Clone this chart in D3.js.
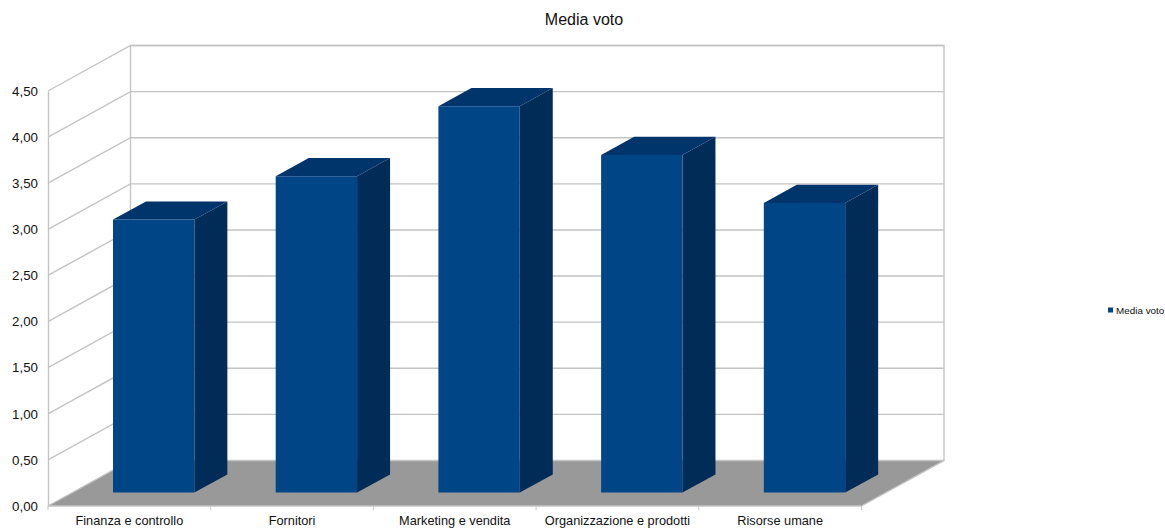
<!DOCTYPE html>
<html>
<head>
<meta charset="utf-8">
<script src="https://cdn.jsdelivr.net/npm/d3@7"></script>
<style>
  html, body { margin: 0; padding: 0; background: #fff; }
  svg { display: block; }
  text { font-family: "Liberation Sans", Arial, sans-serif; fill: #111; }
</style>
</head>
<body>
<svg></svg>
<script>
var categories = ["Finanza e controllo", "Fornitori", "Marketing e vendita", "Organizzazione e prodotti", "Risorse umane"];
var values = [2.96, 3.43, 4.19, 3.66, 3.14];
var yTicks = [0, 0.5, 1, 1.5, 2, 2.5, 3, 3.5, 4, 4.5];
var seriesName = "Media voto";

var svgWidth = 1165, svgHeight = 529;
var gridColor = "#c4c4c4";

// front plane of the box, and how far the back wall is shifted from it
var frontLeft = 48, frontRight = 861.5, frontBottom = 506, frontTop = 91;
var depthX = 82.5, depthY = -45.5;
// bars sit between these two fractions of the box depth
var barFront = 0.295, barBack = 0.695;

var svg = d3.select("svg").attr("width", svgWidth).attr("height", svgHeight);

var x = d3.scaleBand().domain(categories).range([frontLeft, frontRight])
    .paddingInner(0.5).paddingOuter(0.25);
var y = d3.scaleLinear().domain([0, 4.5]).range([frontBottom, frontTop]);

// x and y are front plane pixels, z is 0 (front) to 1 (back)
function project(px, py, z) {
    return [px + depthX * z, py + depthY * z];
}
function poly(points) {
    return points.map(function(p) { return project(p[0], p[1], p[2]).join(","); }).join(" ");
}

/* floor */
svg.append("polygon")
    .attr("points", poly([[frontLeft, y(0), 0], [frontRight, y(0), 0], [frontRight, y(0), 1], [frontLeft, y(0), 1]]))
    .attr("fill", "#999999");

/* gridlines on the side wall and the back wall */
var grid = svg.append("g").attr("fill", "none").attr("stroke", gridColor).attr("stroke-width", 1.4);

grid.selectAll("polyline")
    .data(yTicks)
    .enter()
    .append("polyline")
    .attr("points", function(d) {
        return poly([[frontLeft, y(d), 0], [frontLeft, y(d), 1], [frontRight, y(d), 1]]);
    });

// back wall outline
grid.append("polyline")
    .attr("points", poly([[frontLeft, y(0), 1], [frontLeft, y(4.5), 1], [frontRight, y(4.5), 1], [frontRight, y(0), 1], [frontRight, y(0), 0]]));

/* bars */
var bars = svg.selectAll(".bar")
    .data(categories)
    .enter()
    .append("g")
    .attr("class", "bar");

bars.append("polygon")          // right side
    .attr("fill", "#002c57")
    .attr("points", function(d, i) {
        var r = x(d) + x.bandwidth();
        return poly([[r, y(0), barFront], [r, y(0), barBack], [r, y(values[i]), barBack], [r, y(values[i]), barFront]]);
    });

bars.append("polygon")          // top
    .attr("fill", "#00356b")
    .attr("points", function(d, i) {
        var l = x(d), r = l + x.bandwidth(), t = y(values[i]);
        return poly([[l, t, barFront], [r, t, barFront], [r, t, barBack], [l, t, barBack]]);
    });

bars.append("polygon")          // front
    .attr("fill", "#004586")
    .attr("points", function(d, i) {
        var l = x(d), r = l + x.bandwidth();
        return poly([[l, y(0), barFront], [r, y(0), barFront], [r, y(values[i]), barFront], [l, y(values[i]), barFront]]);
    });

/* axes */
var yAxis = d3.axisLeft(y)
    .tickValues(yTicks)
    .tickSize(0)
    .tickPadding(10)
    .tickFormat(function(d) { return d3.format(".2f")(d).replace(".", ","); });

var yG = svg.append("g").attr("transform", "translate(" + frontLeft + ",0)").call(yAxis);
yG.select(".domain").attr("stroke", gridColor).attr("stroke-width", 1.4);
yG.selectAll("text").attr("font-size", 13.3).style("font-family", null);

var xAxis = d3.axisBottom(x).tickSize(0).tickPadding(10);
var xG = svg.append("g").attr("transform", "translate(0," + frontBottom + ")").call(xAxis);
xG.select(".domain").remove();
xG.selectAll("text").attr("font-size", 12.75).style("font-family", null);

// category separators under the floor
svg.append("g").selectAll("line")
    .data(categories.concat("end"))
    .enter()
    .append("line")
    .attr("x1", function(d, i) { return frontLeft + x.step() * i; })
    .attr("x2", function(d, i) { return frontLeft + x.step() * i; })
    .attr("y1", frontBottom)
    .attr("y2", frontBottom + 4)
    .attr("stroke", gridColor);

svg.append("line")
    .attr("x1", frontLeft).attr("x2", frontRight)
    .attr("y1", frontBottom).attr("y2", frontBottom)
    .attr("stroke", gridColor).attr("stroke-width", 1.4);

/* title */
svg.append("text")
    .attr("x", 584).attr("y", 25)
    .attr("text-anchor", "middle")
    .attr("font-size", 16)
    .text(seriesName);

/* legend */
svg.append("rect")
    .attr("x", 1108).attr("y", 307.5)
    .attr("width", 5).attr("height", 5)
    .attr("fill", "#004586");
svg.append("text")
    .attr("x", 1116).attr("y", 314)
    .attr("font-size", 9.9)
    .text(seriesName);
</script>
</body>
</html>
